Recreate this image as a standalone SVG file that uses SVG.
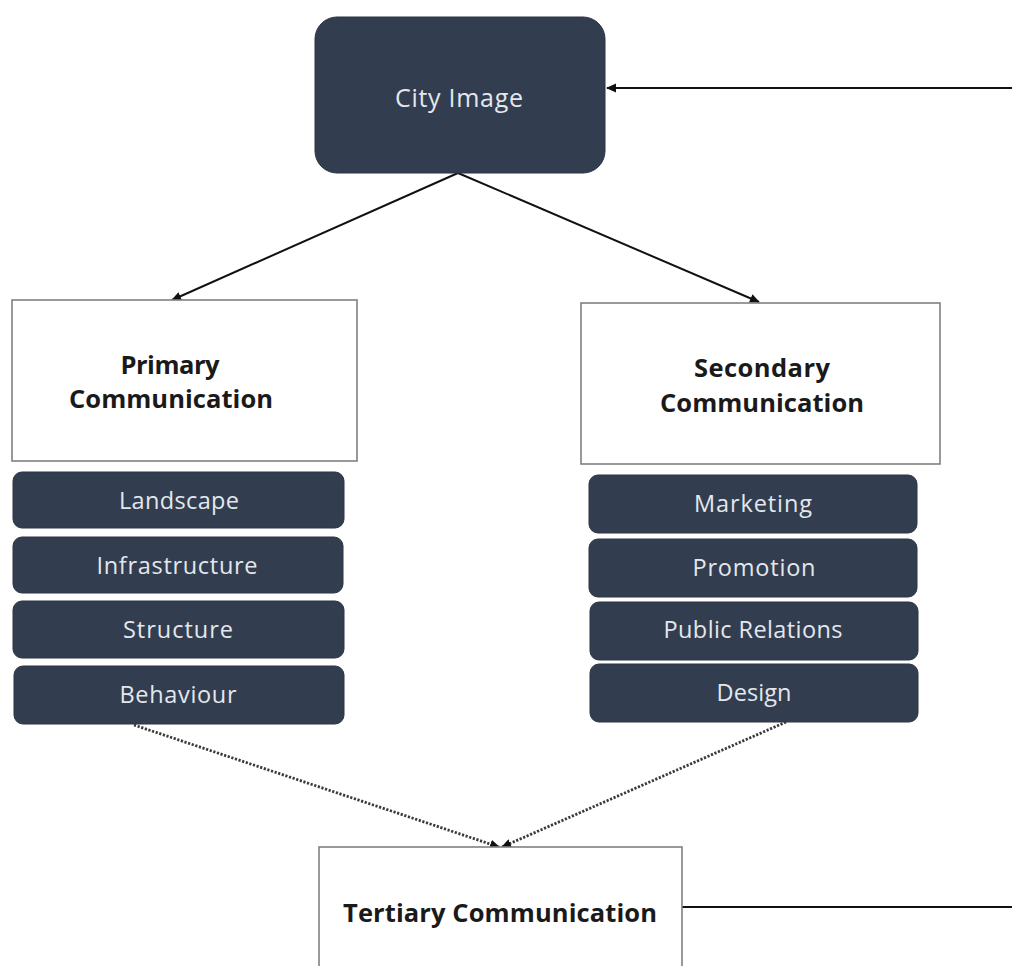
<svg xmlns="http://www.w3.org/2000/svg" width="1012" height="966" viewBox="0 0 1012 966">
  <defs>
    <style>
      .dark { fill: #323e50; stroke: #2a3444; stroke-width: 1; }
      .box { fill: #ffffff; stroke: #808080; stroke-width: 1.6; }
      .lbl { font-family: "Open Sans", Lato, "Liberation Sans", sans-serif; text-anchor: middle; dominant-baseline: central; font-variant-ligatures: none; }
      .light { fill: #e4e7ec; font-size: 23.5px; }
      .head { fill: #1a1a1a; font-size: 25.5px; font-weight: bold; }
      .edge { stroke: #111; stroke-width: 2; fill: none; }
      .dot { stroke: #3a3a3a; stroke-width: 2.8; fill: none; stroke-dasharray: 2.2 1.6; }
    </style>
    <marker id="arrow" viewBox="0 0 10 10" refX="9" refY="5" markerWidth="11" markerHeight="10" markerUnits="userSpaceOnUse" orient="auto">
      <path d="M0,0.5 L10,5 L0,9.5 z" fill="#111"/>
    </marker>
    <marker id="arrow-small" viewBox="0 0 10 10" refX="9" refY="5" markerWidth="10" markerHeight="10" markerUnits="userSpaceOnUse" orient="auto">
      <path d="M0,0.5 L10,5 L0,9.5 z" fill="#111"/>
    </marker>
  </defs>
  <rect width="1012" height="966" fill="#ffffff"/>

  <g id="connectors">
    <line class="edge" x1="1012" y1="88" x2="607" y2="88" marker-end="url(#arrow)"/>
    <line class="edge" x1="458" y1="173" x2="172" y2="300" marker-end="url(#arrow)"/>
    <line class="edge" x1="458" y1="173" x2="759" y2="302" marker-end="url(#arrow)"/>
    <line class="dot" x1="134" y1="725" x2="499" y2="847" marker-end="url(#arrow-small)"/>
    <line class="dot" x1="786" y1="722" x2="502" y2="847" marker-end="url(#arrow-small)"/>
    <line class="edge" x1="682" y1="907" x2="1012" y2="907"/>
  </g>

  <g id="city-image">
    <rect class="dark" x="315" y="17" width="290" height="156" rx="22"/>
    <text class="lbl light" x="459" y="97" style="font-size:25px" textLength="128">City Image</text>
  </g>

  <g id="primary">
    <rect class="box" x="12" y="300" width="345" height="161"/>
    <text class="lbl head" x="170" y="364" textLength="99">Primary</text>
    <text class="lbl head" x="171" y="398" textLength="204">Communication</text>
  </g>

  <g id="secondary">
    <rect class="box" x="581" y="303" width="359" height="161"/>
    <text class="lbl head" x="762" y="367" textLength="136">Secondary</text>
    <text class="lbl head" x="762" y="402" textLength="204">Communication</text>
  </g>

  <g id="landscape">
    <rect class="dark" x="13" y="472" width="331" height="56" rx="9"/>
    <text class="lbl light" x="179" y="500" textLength="120">Landscape</text>
  </g>
  <g id="infrastructure">
    <rect class="dark" x="13" y="537" width="330" height="56" rx="9"/>
    <text class="lbl light" x="177" y="565" textLength="161">Infrastructure</text>
  </g>
  <g id="structure">
    <rect class="dark" x="13" y="601" width="331" height="57" rx="9"/>
    <text class="lbl light" x="178" y="629" textLength="110">Structure</text>
  </g>
  <g id="behaviour">
    <rect class="dark" x="14" y="666" width="330" height="58" rx="9"/>
    <text class="lbl light" x="178" y="694" textLength="117">Behaviour</text>
  </g>

  <g id="marketing">
    <rect class="dark" x="589" y="475" width="328" height="58" rx="9"/>
    <text class="lbl light" x="753" y="503" textLength="118">Marketing</text>
  </g>
  <g id="promotion">
    <rect class="dark" x="589" y="539" width="328" height="58" rx="9"/>
    <text class="lbl light" x="754" y="567" textLength="123">Promotion</text>
  </g>
  <g id="public-relations">
    <rect class="dark" x="590" y="602" width="328" height="58" rx="9"/>
    <text class="lbl light" x="753" y="629" textLength="179">Public Relations</text>
  </g>
  <g id="design">
    <rect class="dark" x="590" y="664" width="328" height="58" rx="9"/>
    <text class="lbl light" x="754" y="692" textLength="75">Design</text>
  </g>

  <g id="tertiary">
    <rect class="box" x="319" y="847" width="363" height="130"/>
    <text class="lbl head" x="500" y="912" textLength="314">Tertiary  Communication</text>
  </g>
</svg>
